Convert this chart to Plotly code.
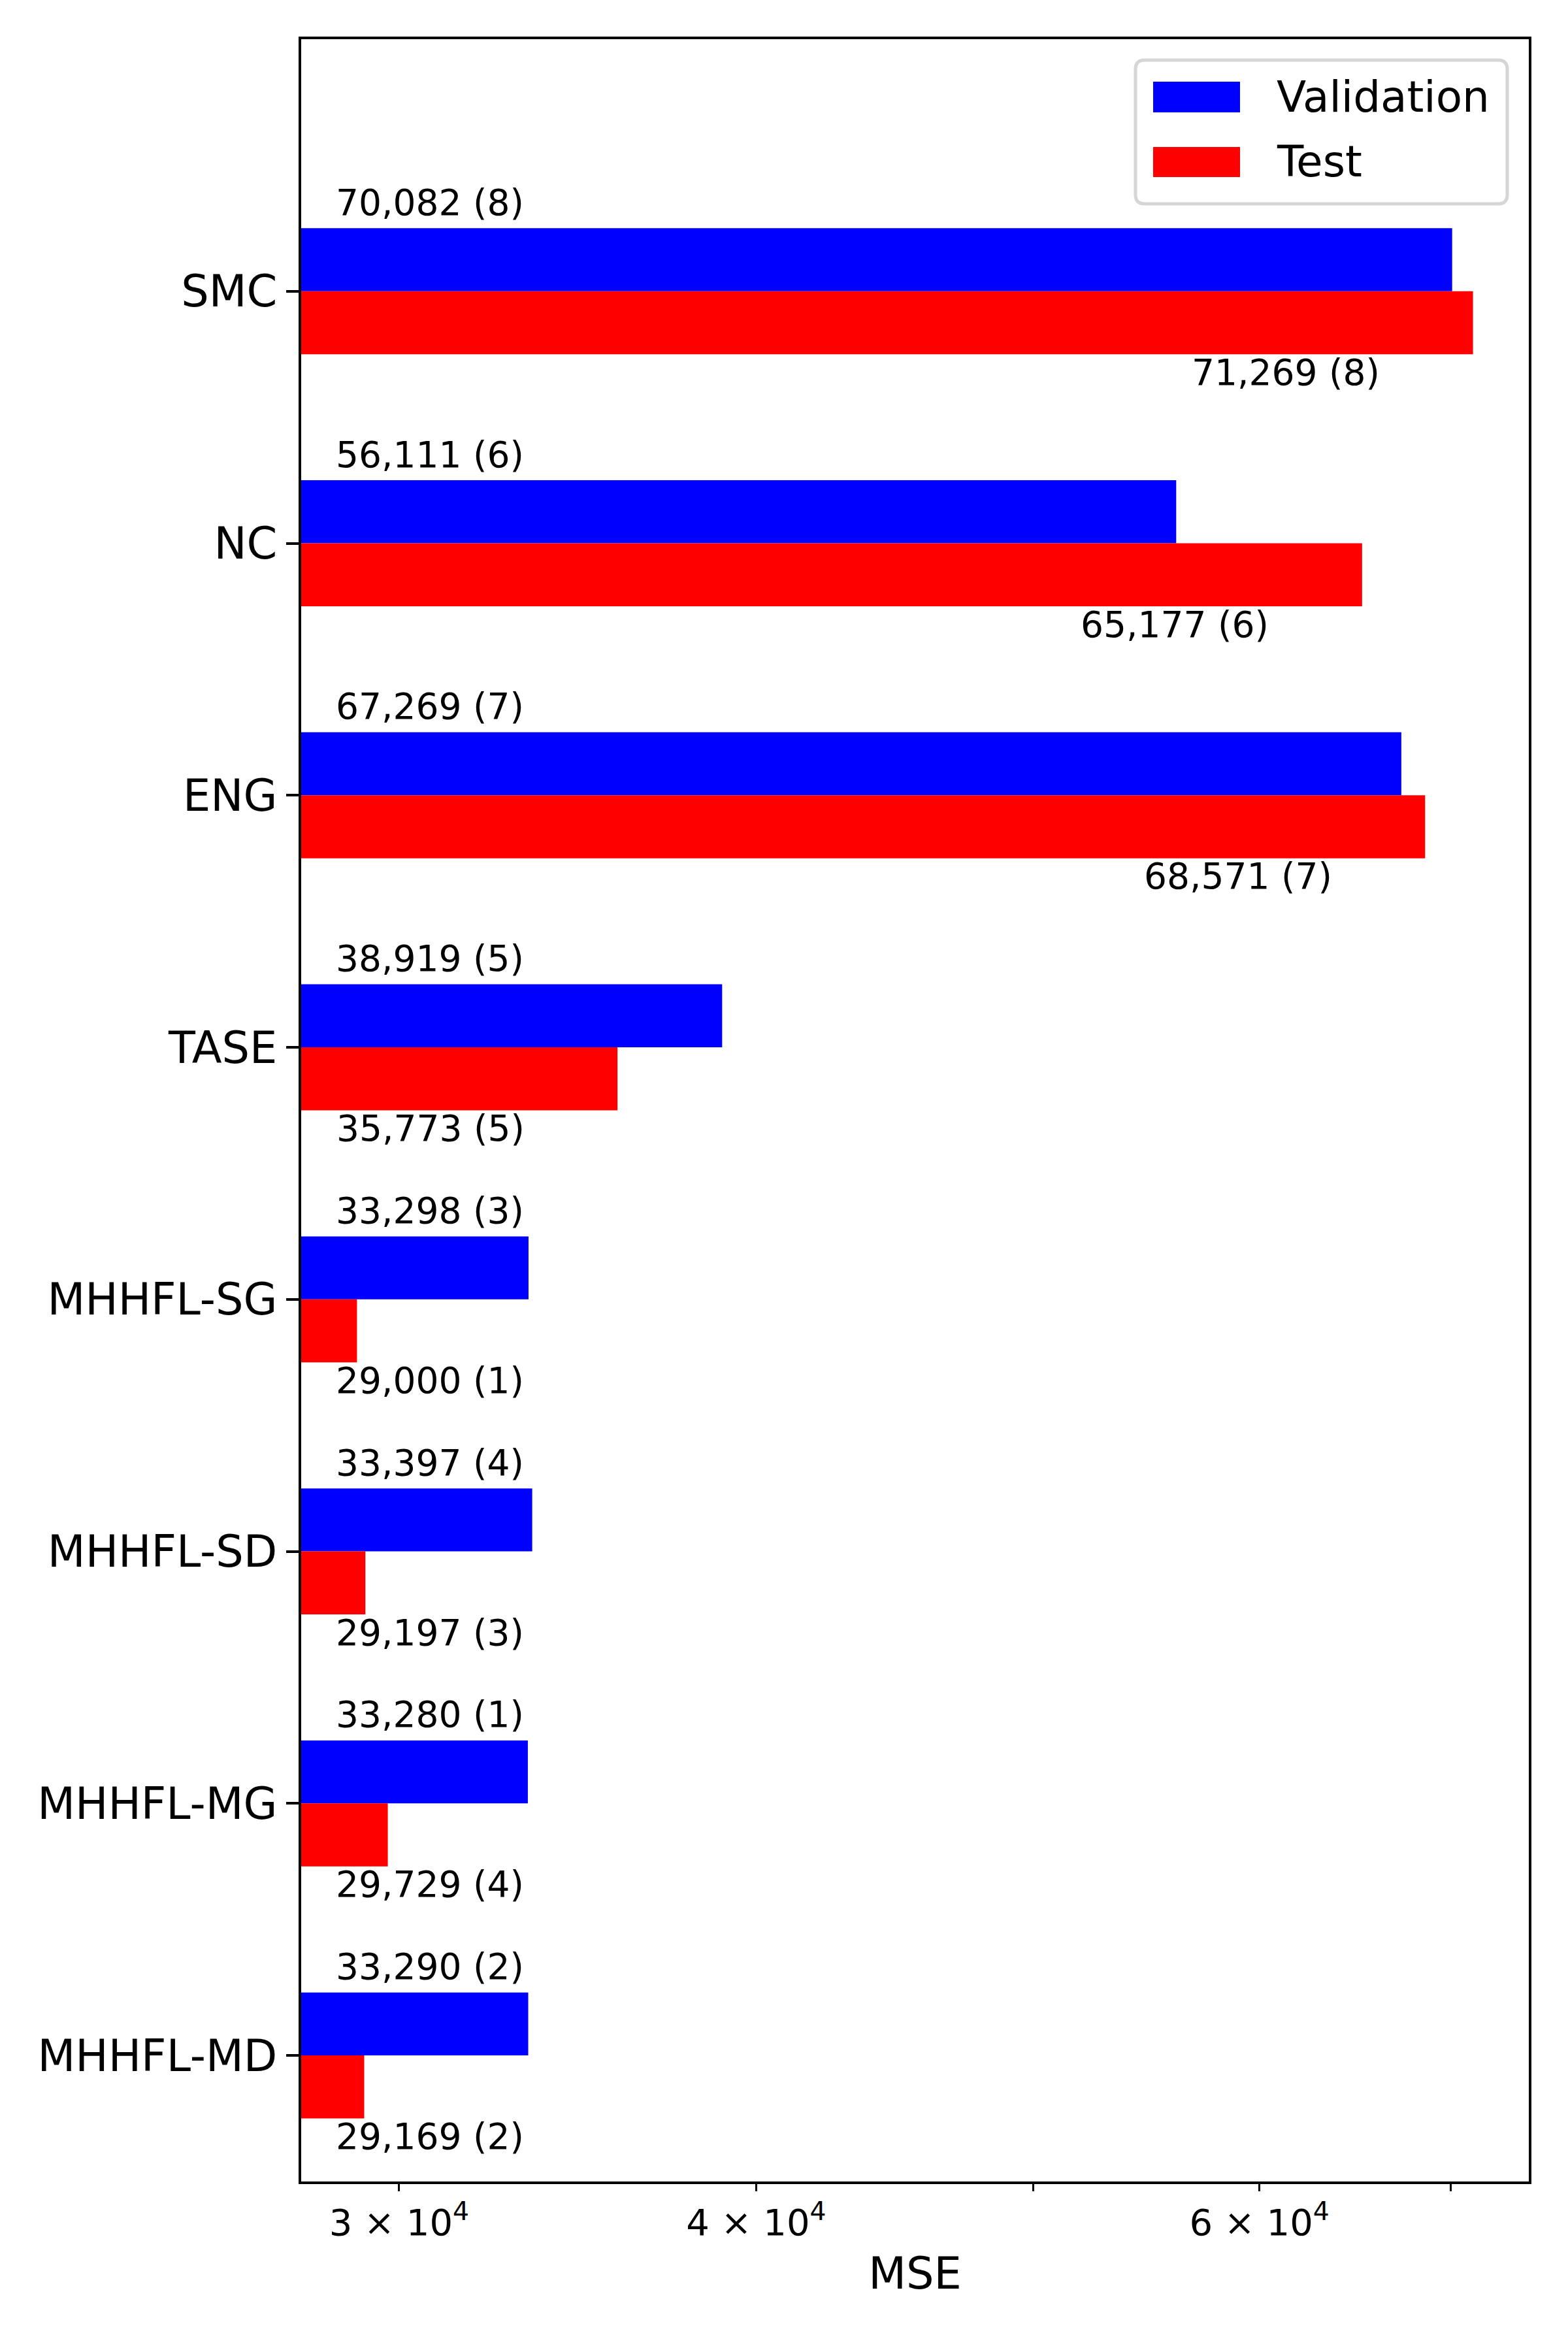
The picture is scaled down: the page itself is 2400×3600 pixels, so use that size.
import math

import plotly.graph_objects as go

methods = ["SMC", "NC", "ENG", "TASE", "MHHFL-SG", "MHHFL-SD", "MHHFL-MG", "MHHFL-MD"]
val_mse = [70082, 56111, 67269, 38919, 33298, 33397, 33280, 33290]
val_rank = [8, 6, 7, 5, 3, 4, 1, 2]
test_mse = [71269, 65177, 68571, 35773, 29000, 29197, 29729, 29169]
test_rank = [8, 6, 7, 5, 1, 3, 4, 2]

x_tickvals = [3e4, 4e4, 6e4]
x_ticktext = ["3 × 10<sup>4</sup>", "4 × 10<sup>4</sup>", "6 × 10<sup>4</sup>"]
x_minorvals = [5e4, 7e4]

FONT = "DejaVu Sans"
W, H = 2400, 3600
L, R, T, B = 461, 2340, 60, 3339  # plot area in px (as seen on the page)
BODY = 8  # browser body margin shifts the figure


def px(x):
    return (x - L) / (R - L)


def py(y):
    return (B - y) / (B - T)


# log range with 5% padding like matplotlib
lo, hi = math.log10(min(test_mse + val_mse)), math.log10(max(test_mse + val_mse))
pad = 0.05 * (hi - lo)
x_range = [lo - pad, hi + pad]

fig = go.Figure()
fig.add_trace(go.Bar(name="Validation", y=methods, x=val_mse, orientation="h",
                     marker=dict(color="#0000ff", line=dict(width=0))))
fig.add_trace(go.Bar(name="Test", y=methods, x=test_mse, orientation="h",
                     marker=dict(color="#ff0000", line=dict(width=0))))

label_floor = 30757
annotations = []
for m, v, r in zip(methods, val_mse, val_rank):
    annotations.append(dict(x=math.log10(label_floor), y=m, xref="x", yref="y",
                            text=f"{v:,} ({r})", showarrow=False, xanchor="center",
                            yanchor="middle", yshift=136, font=dict(size=55, color="black")))
for m, v, r in zip(methods, test_mse, test_rank):
    annotations.append(dict(x=math.log10(max(v * 0.86, label_floor)), y=m, xref="x", yref="y",
                            text=f"{v:,} ({r})", showarrow=False, xanchor="center",
                            yanchor="middle", yshift=-124, font=dict(size=55, color="black")))

# legend drawn by hand (matplotlib-style big swatches)
lx0, lx1, ly0, ly1, rad = 1738, 2307, 92, 312, 14
rx, ry = rad / (R - L), rad / (B - T)
a0, a1, b0, b1 = px(lx0), px(lx1), py(ly1), py(ly0)
legend_path = (
    f"M{a0 + rx},{b0} L{a1 - rx},{b0} Q{a1},{b0} {a1},{b0 + ry} "
    f"L{a1},{b1 - ry} Q{a1},{b1} {a1 - rx},{b1} "
    f"L{a0 + rx},{b1} Q{a0},{b1} {a0},{b1 - ry} "
    f"L{a0},{b0 + ry} Q{a0},{b0} {a0 + rx},{b0} Z"
)
shapes = [dict(type="path", xref="paper", yref="paper", path=legend_path,
               fillcolor="white", line=dict(color="#d6d6d6", width=5), layer="above")]
for name, color, y0, y1 in [("Validation", "#0000ff", 125, 172), ("Test", "#ff0000", 225, 271)]:
    shapes.append(dict(type="rect", xref="paper", yref="paper", x0=px(1765), x1=px(1898),
                       y0=py(y1), y1=py(y0), fillcolor=color, line=dict(width=0), layer="above"))
    annotations.append(dict(x=px(1952), y=py((y0 + y1) / 2), xref="paper", yref="paper",
                            text=name, showarrow=False, xanchor="left", yanchor="middle",
                            font=dict(size=66, color="black")))

fig.update_layout(
    width=W, height=H,
    paper_bgcolor="white", plot_bgcolor="white",
    font=dict(family=FONT, color="black"),
    margin=dict(l=L - BODY, r=W - R + BODY, t=T - BODY, b=H - B + BODY, pad=0),
    barmode="group", bargap=0.5, bargroupgap=0,
    showlegend=False,
    shapes=shapes,
    annotations=annotations,
    xaxis=dict(
        type="log", range=x_range, tickvals=x_tickvals, ticktext=x_ticktext,
        ticks="outside", ticklen=11, tickwidth=3.3, tickcolor="black",
        minor=dict(tickvals=x_minorvals, ticks="outside", ticklen=11, tickwidth=3.3,
                   tickcolor="black", showgrid=False),
        tickfont=dict(size=56), showgrid=False, zeroline=False,
        showline=True, linewidth=4.4, linecolor="black", mirror=True,
        title=dict(text="MSE", font=dict(size=67), standoff=24),
        automargin=False,
    ),
    yaxis=dict(
        type="category", categoryorder="array", categoryarray=methods,
        range=[len(methods) - 0.5, -1],
        ticks="outside", ticklen=19, tickwidth=4.4, tickcolor="black",
        tickfont=dict(size=67), showgrid=False, zeroline=False,
        showline=True, linewidth=4.4, linecolor="black", mirror=True,
        automargin=False,
    ),
)

fig.write_html("out.html")
